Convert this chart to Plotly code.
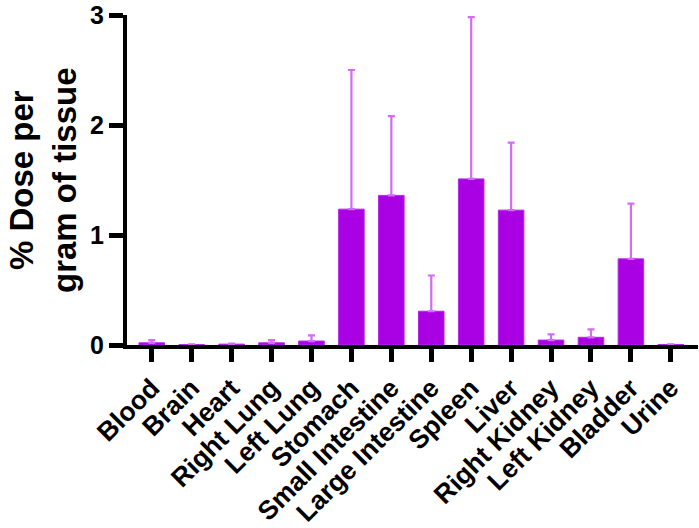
import plotly.graph_objects as go

categories = ["Blood", "Brain", "Heart", "Right Lung", "Left Lung", "Stomach",
              "Small Intestine", "Large Intestine", "Spleen", "Liver",
              "Right Kidney", "Left Kidney", "Bladder", "Urine"]
means = [0.02, 0.003, 0.008, 0.02, 0.036, 1.235, 1.36, 0.307, 1.51, 1.226,
         0.045, 0.07, 0.783, 0.005]
err_up = [0.025, 0.002, 0.004, 0.025, 0.052, 1.265, 0.72, 0.325, 1.47, 0.614,
          0.052, 0.072, 0.502, 0.002]
y_ticks = [0, 1, 2, 3]

FONT = "Arial, 'Liberation Sans', sans-serif"
BAR = "#AA00E4"
ERR = "#D26BF7"

fig = go.Figure()
fig.add_trace(go.Bar(
    x=list(range(len(categories))),
    y=means,
    width=0.64,
    marker=dict(color=BAR, line=dict(color="#B425EA", width=1)),
    error_y=dict(type="data", symmetric=False, array=err_up,
                 arrayminus=[0] * len(err_up), color=ERR, thickness=2.2, width=3.5),
))

fig.update_layout(
    width=699, height=528,
    margin=dict(l=127, r=1, t=13, b=183),
    paper_bgcolor="white", plot_bgcolor="white",
    showlegend=False,
    bargap=0.36,
    font=dict(family=FONT, color="black"),
    xaxis=dict(
        range=[-0.62, 13.68],
        tickmode="array",
        tickvals=list(range(len(categories))),
        ticktext=categories,
        tickangle=-45,
        tickfont=dict(size=26.5, family=FONT, weight="bold", color="black"),
        showline=True, linecolor="black", linewidth=4,
        ticks="outside", ticklen=13, tickwidth=4.5, tickcolor="black",
        showgrid=False, zeroline=False,
    ),
    yaxis=dict(
        range=[0, 3.0001],
        tickmode="array",
        tickvals=y_ticks,
        ticktext=[str(v) for v in y_ticks],
        ticklabeloverflow="allow",
        tickfont=dict(size=25, family=FONT, weight="bold", color="black"),
        showline=True, linecolor="black", linewidth=4,
        ticks="outside", ticklen=14, tickwidth=4.5, tickcolor="black",
        showgrid=False, zeroline=False,
    ),
    annotations=[dict(
        text="% Dose per<br>gram of tissue",
        xref="paper", yref="paper",
        x=(43 - 127) / 571, y=(345 - 179) / 332,
        xanchor="center", yanchor="middle",
        textangle=-90, showarrow=False,
        font=dict(size=33, family=FONT, weight="bold", color="black"),
    )],
)

fig.write_html("out.html")
